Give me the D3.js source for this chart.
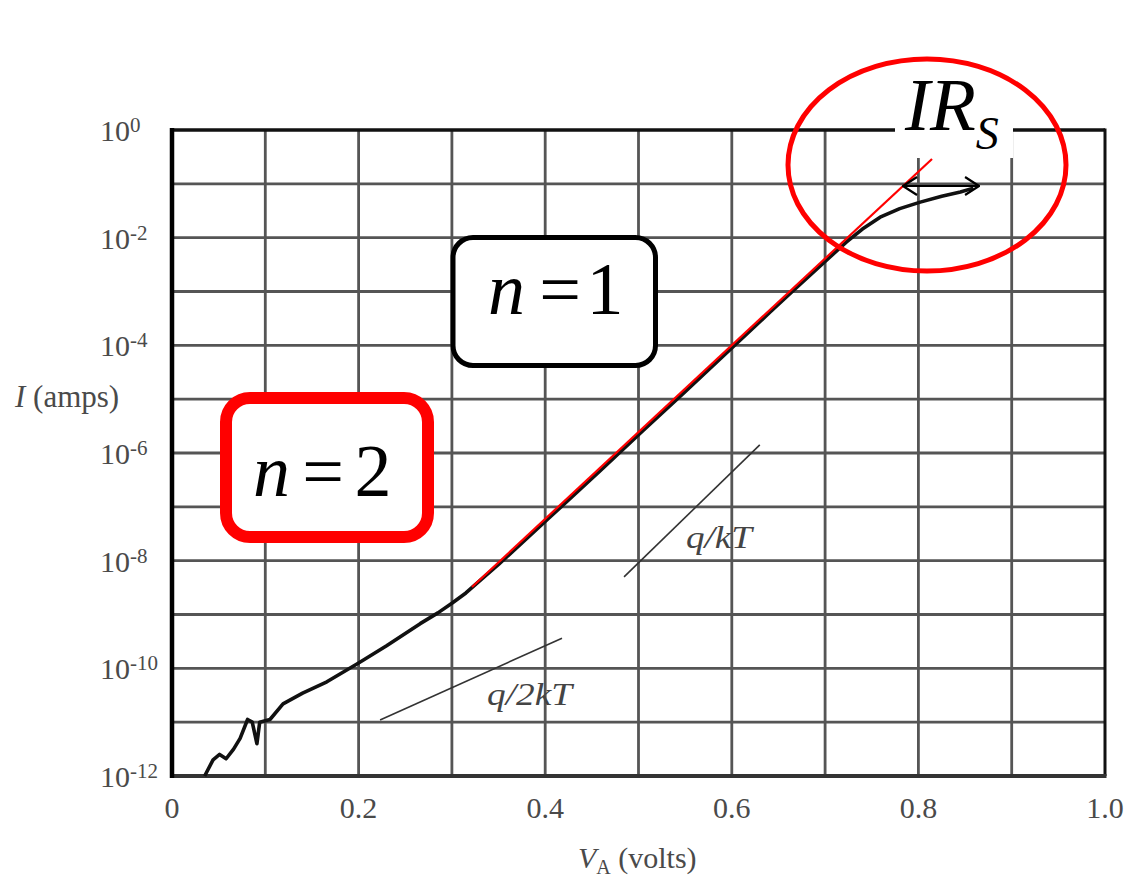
<!DOCTYPE html>
<html>
<head>
<meta charset="utf-8">
<script src="https://cdn.jsdelivr.net/npm/d3@7"></script>
<style>
  body { margin: 0; background: #fff; }
  svg { display: block; }
</style>
</head>
<body>
<svg id="chart" width="1126" height="883"></svg>
<script>
// Measured forward I–V characteristic of a pn diode (semilog)
const voltage = [0.035, 0.044, 0.051, 0.058, 0.066, 0.073, 0.081, 0.086, 0.091, 0.094,
                 0.105, 0.119, 0.140, 0.166, 0.200, 0.230, 0.266, 0.285, 0.300, 0.315,
                 0.330, 0.350, 0.402, 0.459, 0.505, 0.550, 0.600, 0.640, 0.666, 0.700,
                 0.723, 0.740, 0.759, 0.780, 0.802, 0.825, 0.845, 0.859];
const logCurrent = [-12.0, -11.70, -11.60, -11.68, -11.50, -11.30, -10.95, -11.00, -11.40, -11.00,
                    -10.95, -10.66, -10.46, -10.25, -9.90, -9.58, -9.17, -8.97, -8.79, -8.60,
                    -8.37, -8.07, -7.24, -6.33, -5.58, -4.86, -4.05, -3.40, -2.98, -2.44,
                    -2.08, -1.84, -1.62, -1.46, -1.34, -1.23, -1.15, -1.08];

// Ideal n = 1 extrapolation
const fitVoltage = [0.3215, 0.8146];
const fitLogCurrent = [-8.49, -0.539];

// Reference slopes q/kT and q/2kT
const slopeKTVoltage = [0.4845, 0.630];
const slopeKTLogCurrent = [-8.30, -5.85];
const slope2KTVoltage = [0.223, 0.418];
const slope2KTLogCurrent = [-10.96, -9.44];

// Series-resistance voltage drop at high current
const irDropVoltage = [0.7835, 0.865];
const irDropLogCurrent = -1.04;

// Axes
const gridVoltages = [0, 0.1, 0.2, 0.3, 0.4, 0.5, 0.6, 0.7, 0.8, 0.9, 1.0];
const xTickValues = [0, 0.2, 0.4, 0.6, 0.8, 1.0];
const xTickLabels = ["0", "0.2", "0.4", "0.6", "0.8", "1.0"];
const gridDecades = [0, -1, -2, -3, -4, -5, -6, -7, -8, -9, -10, -11, -12];
const yTickExponents = [0, -2, -4, -6, -8, -10, -12];
const yTickLabels = ["0", "-2", "-4", "-6", "-8", "-10", "-12"];

const serif = '"Liberation Serif", "Times New Roman", serif';
const svg = d3.select("#chart");

const x = d3.scaleLinear().domain([0, 1]).range([172, 1105]);
const y = d3.scaleLog().domain([1e-12, 1]).range([776, 130]);
const pow10 = e => Math.pow(10, e);

// Grid
const grid = svg.append("g").attr("stroke", "#555").attr("stroke-width", 2.8);
grid.selectAll("line.v").data(gridVoltages.slice(1, -1)).join("line")
  .attr("class", "v")
  .attr("x1", d => x(d)).attr("x2", d => x(d))
  .attr("y1", y(1)).attr("y2", y(1e-12));
grid.selectAll("line.h").data(gridDecades.slice(1, -1)).join("line")
  .attr("class", "h")
  .attr("x1", x(0)).attr("x2", x(1))
  .attr("y1", d => y(pow10(d))).attr("y2", d => y(pow10(d)));

// Frame
const frame = svg.append("g");
frame.append("line").attr("x1", x(0)).attr("x2", x(1)).attr("y1", y(1)).attr("y2", y(1))
  .attr("stroke", "#111").attr("stroke-width", 3.5);
frame.append("line").attr("x1", x(1)).attr("x2", x(1)).attr("y1", y(1) - 1.5).attr("y2", y(1e-12))
  .attr("stroke", "#111").attr("stroke-width", 3);
frame.append("line").attr("x1", x(0) - 2).attr("x2", x(1) + 1.5).attr("y1", y(1e-12)).attr("y2", y(1e-12))
  .attr("stroke", "#333").attr("stroke-width", 4);
frame.append("line").attr("x1", x(0)).attr("x2", x(0)).attr("y1", y(1) - 2).attr("y2", y(1e-12) + 2)
  .attr("stroke", "#000").attr("stroke-width", 4.5);

// X tick labels
svg.append("g").selectAll("text").data(xTickValues).join("text")
  .attr("x", d => x(d)).attr("y", 818)
  .attr("text-anchor", "middle")
  .attr("font-family", serif).attr("font-size", 30).attr("fill", "#4a4a4a")
  .text((d, i) => xTickLabels[i]);

// Y tick labels 10^n
const yLab = svg.append("g").selectAll("text").data(yTickExponents).join("text")
  .attr("x", 100).attr("y", d => y(pow10(d)) + 11)
  .attr("font-family", serif).attr("font-size", 30).attr("fill", "#4a4a4a");
yLab.append("tspan").text("10");
yLab.append("tspan").attr("dy", -9).attr("font-size", 21).text((d, i) => yTickLabels[i]);

// Axis titles
const yt = svg.append("text").attr("x", 15).attr("y", 407)
  .attr("font-family", serif).attr("font-size", 31).attr("fill", "#4a4a4a");
yt.append("tspan").attr("font-style", "italic").text("I");
yt.append("tspan").text(" (amps)");

const xt = svg.append("text").attr("x", 578).attr("y", 868)
  .attr("font-family", serif).attr("font-size", 30).attr("fill", "#4a4a4a");
xt.append("tspan").attr("font-style", "italic").text("V");
xt.append("tspan").attr("font-size", 20).attr("dy", 6).text("A");
xt.append("tspan").attr("dy", -6).text(" (volts)");

// Slope reference segments
const seg = (vs, ls) => vs.map((v, i) => [x(v), y(pow10(ls[i]))]);
svg.append("path").attr("d", d3.line()(seg(slopeKTVoltage, slopeKTLogCurrent)))
  .attr("stroke", "#333").attr("stroke-width", 1.6).attr("fill", "none");
svg.append("path").attr("d", d3.line()(seg(slope2KTVoltage, slope2KTLogCurrent)))
  .attr("stroke", "#333").attr("stroke-width", 1.6).attr("fill", "none");

svg.append("text").attr("x", 686).attr("y", 548)
  .attr("font-family", serif).attr("font-size", 31).attr("font-style", "italic").attr("fill", "#444")
  .attr("textLength", 66).attr("lengthAdjust", "spacingAndGlyphs")
  .text("q/kT");
svg.append("text").attr("x", 487).attr("y", 705)
  .attr("font-family", serif).attr("font-size", 31).attr("font-style", "italic").attr("fill", "#444")
  .attr("textLength", 85).attr("lengthAdjust", "spacingAndGlyphs")
  .text("q/2kT");

// White label plate over the top-right of the frame
svg.append("rect").attr("x", 895).attr("y", 70).attr("width", 118).attr("height", 88)
  .attr("fill", "#fff");

// Measured curve
const pts = voltage.map((v, i) => [x(v), y(pow10(logCurrent[i]))]);
svg.append("path").attr("d", d3.line()(pts))
  .attr("fill", "none").attr("stroke", "#111").attr("stroke-width", 3.6)
  .attr("stroke-linejoin", "round");

// Ideal n = 1 line
svg.append("path").attr("d", d3.line()(seg(fitVoltage, fitLogCurrent)))
  .attr("stroke", "#ff0000").attr("stroke-width", 2.2).attr("fill", "none");

// IR_S arrow
const defs = svg.append("defs");
defs.append("marker").attr("id", "chev").attr("viewBox", "0 0 16 20")
  .attr("refX", 15).attr("refY", 10).attr("markerWidth", 16).attr("markerHeight", 20)
  .attr("markerUnits", "userSpaceOnUse").attr("orient", "auto-start-reverse")
  .append("path").attr("d", "M1,1 L15,10 L1,19").attr("fill", "none")
  .attr("stroke", "#000").attr("stroke-width", 2.2);
svg.append("line")
  .attr("x1", x(irDropVoltage[0])).attr("x2", x(irDropVoltage[1]))
  .attr("y1", y(pow10(irDropLogCurrent))).attr("y2", y(pow10(irDropLogCurrent)))
  .attr("stroke", "#000").attr("stroke-width", 2.2)
  .attr("marker-start", "url(#chev)").attr("marker-end", "url(#chev)");

const irs = svg.append("text").attr("x", 905).attr("y", 130)
  .attr("font-family", serif).attr("font-size", 75).attr("font-style", "italic").attr("fill", "#000");
irs.append("tspan").text("IR");
irs.append("tspan").attr("font-size", 46).attr("dy", 19).text("S");

svg.append("ellipse").attr("cx", 927).attr("cy", 165).attr("rx", 139).attr("ry", 106)
  .attr("fill", "none").attr("stroke", "#ff0000").attr("stroke-width", 5);

// n = 1 box
svg.append("rect").attr("x", 453).attr("y", 237.5).attr("width", 202.5).attr("height", 128)
  .attr("rx", 20).attr("fill", "#fff").attr("stroke", "#000").attr("stroke-width", 5);
const n1 = svg.append("g").attr("font-family", serif).attr("font-size", 74).attr("fill", "#000");
n1.append("text").attr("x", 488).attr("y", 314).attr("font-style", "italic").text("n");
n1.append("text").attr("x", 560).attr("y", 314).attr("text-anchor", "middle").text("=");
n1.append("text").attr("x", 605).attr("y", 314).attr("text-anchor", "middle").text("1");

// n = 2 box
svg.append("rect").attr("x", 226).attr("y", 398).attr("width", 202).attr("height", 139)
  .attr("rx", 24).attr("fill", "#fff").attr("stroke", "#ff0000").attr("stroke-width", 12);
const n2 = svg.append("g").attr("font-family", serif).attr("font-size", 74).attr("fill", "#000");
n2.append("text").attr("x", 253).attr("y", 496).attr("font-style", "italic").text("n");
n2.append("text").attr("x", 323).attr("y", 496).attr("text-anchor", "middle").text("=");
n2.append("text").attr("x", 373).attr("y", 496).attr("text-anchor", "middle").text("2");
</script>
</body>
</html>
